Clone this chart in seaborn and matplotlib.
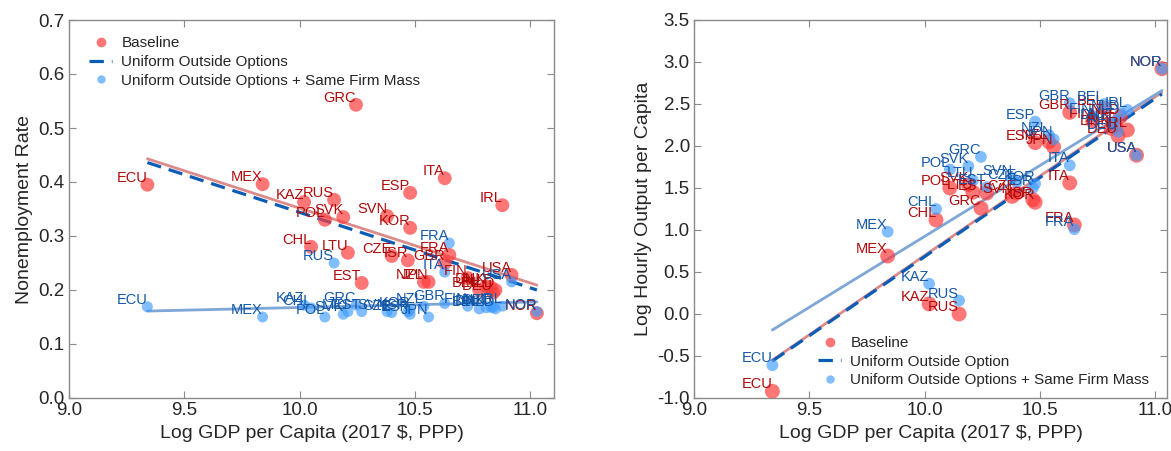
import numpy as np
import pandas as pd
import seaborn as sns
import matplotlib.pyplot as plt
from matplotlib.lines import Line2D

# country codes and log GDP per capita (2017 $, PPP)
countries = ['ECU', 'MEX', 'KAZ', 'CHL', 'RUS', 'POL', 'SVK', 'LTU', 'GRC', 'EST',
             'SVN', 'CZE', 'ISR', 'ESP', 'KOR', 'NZL', 'JPN', 'ITA', 'GBR', 'FRA',
             'FIN', 'BEL', 'DNK', 'AUT', 'DEU', 'NLD', 'IRL', 'USA', 'NOR']
log_gdp = [9.34, 9.84, 10.02, 10.05, 10.15, 10.11, 10.19, 10.21, 10.245, 10.27,
           10.38, 10.40, 10.47, 10.48, 10.48, 10.54, 10.56, 10.63, 10.63, 10.65,
           10.73, 10.78, 10.81, 10.83, 10.84, 10.85, 10.88, 10.92, 11.03]

# left panel: nonemployment rate
nonemp_base = [0.395, 0.396, 0.363, 0.280, 0.367, 0.330, 0.335, 0.269, 0.543, 0.213,
               0.337, 0.263, 0.255, 0.380, 0.315, 0.215, 0.215, 0.407, 0.250, 0.265,
               0.222, 0.200, 0.207, 0.205, 0.195, 0.200, 0.357, 0.228, 0.157]
nonemp_same = [0.169, 0.150, 0.172, 0.167, 0.250, 0.150, 0.155, 0.160, 0.172, 0.160,
               0.160, 0.158, 0.160, 0.155, 0.163, 0.170, 0.150, 0.233, 0.175, 0.287,
               0.170, 0.165, 0.167, 0.168, 0.168, 0.165, 0.170, 0.215, 0.160]

# right panel: log hourly output per capita
output_base = [-0.92, 0.69, 0.12, 1.12, 0.00, 1.50, 1.54, 1.45, 1.26, 1.44,
               1.40, 1.44, 1.36, 2.04, 1.33, 2.05, 1.99, 1.56, 2.40, 1.06,
               2.30, 2.45, 2.21, 2.25, 2.12, 2.35, 2.19, 1.89, 2.92]
output_same = [-0.61, 0.98, 0.36, 1.25, 0.16, 1.72, 1.76, 1.59, 1.87, 1.51,
               1.62, 1.57, 1.50, 2.29, 1.55, 2.13, 2.08, 1.77, 2.51, 1.01,
               2.36, 2.50, 2.28, 2.30, 2.17, 2.39, 2.43, 1.89, 2.92]

# fitted lines, read at the ends of the GDP range
fit_x = [9.34, 11.03]
fit_nonemp_base = [0.443, 0.209]
fit_nonemp_uniform = [0.436, 0.200]
fit_nonemp_same = [0.161, 0.178]
fit_output_base = [-0.55, 2.64]
fit_output_uniform = [-0.56, 2.62]
fit_output_same = [-0.19, 2.66]

df = pd.DataFrame({'country': countries, 'gdp': log_gdp,
                   'u_base': nonemp_base, 'u_same': nonemp_same,
                   'y_base': output_base, 'y_same': output_same})
fits = pd.DataFrame({'gdp': fit_x,
                     'u_base': fit_nonemp_base, 'u_unif': fit_nonemp_uniform,
                     'u_same': fit_nonemp_same,
                     'y_base': fit_output_base, 'y_unif': fit_output_uniform,
                     'y_same': fit_output_same})

sns.set_style('ticks')
plt.rcParams['font.family'] = ['Liberation Sans', 'DejaVu Sans']

RED = '#ff3c3c'
BLUE = '#3d9bff'
RED_TXT = '#b00a0a'
BLUE_TXT = '#1458a8'
RED_LINE = '#dc8a8a'
DASH = '#0b5cb5'
BLUE_LINE = '#7ea6d6'

fig = plt.figure(figsize=(11.71, 4.51), dpi=100)
ax1 = fig.add_axes([69 / 1171, 53 / 451, 485 / 1171, 378 / 451])
ax2 = fig.add_axes([694 / 1171, 53 / 451, 473 / 1171, 378 / 451])


def panel(ax, base, same, fb, fu, fs, s_red, s_blue, xmax):
    sns.lineplot(data=fits, x='gdp', y=fb, color=RED_LINE, lw=2, ax=ax, zorder=2)
    sns.lineplot(data=fits, x='gdp', y=fu, color=DASH, lw=2.3, ax=ax,
                 dashes=(4.5, 2.5), zorder=2)
    sns.lineplot(data=fits, x='gdp', y=fs, color=BLUE_LINE, lw=2, ax=ax, zorder=2)
    sns.scatterplot(data=df, x='gdp', y=base, color=RED, alpha=0.7, s=s_red,
                    edgecolor='none', ax=ax, zorder=3)
    sns.scatterplot(data=df, x='gdp', y=same, color=BLUE, alpha=0.65, s=s_blue,
                    edgecolor='none', ax=ax, zorder=3)
    for _, r in df.iterrows():
        ax.text(r['gdp'], r[base], r['country'], color=RED_TXT, fontsize=10.5,
                ha='right', va='bottom', zorder=4)
        ax.text(r['gdp'], r[same], r['country'], color=BLUE_TXT, fontsize=10.5,
                ha='right', va='bottom', zorder=4)
    ax.set_xlim(9.0, xmax)
    ax.set_xticks([9.0, 9.5, 10.0, 10.5, 11.0])
    ax.set_xticklabels(['9.0', '9.5', '10.0', '10.5', '11.0'])
    ax.set_xlabel('Log GDP per Capita (2017 $, PPP)', fontsize=14, color='#262626')
    ax.tick_params(direction='in', top=True, right=True, length=5, width=0.8,
                   color='#8a8a8a', labelsize=13.5, labelcolor='#262626', pad=3)
    for sp in ax.spines.values():
        sp.set_color('#8a8a8a')
        sp.set_linewidth(1.0)


panel(ax1, 'u_base', 'u_same', 'u_base', 'u_unif', 'u_same', 100, 62, 9.0 + 485 / 230.5)
ax1.set_ylim(0.0, 0.7)
ax1.set_yticks(np.arange(0, 0.71, 0.1))
ax1.set_yticklabels([f'{v:.1f}' for v in np.arange(0, 0.71, 0.1)])
ax1.set_ylabel('Nonemployment Rate', fontsize=14, color='#262626')

panel(ax2, 'y_base', 'y_same', 'y_base', 'y_unif', 'y_same', 115, 72, 9.0 + 473 / 230.5)
ax2.set_ylim(-1.0, 3.5)
ax2.set_yticks(np.arange(-1.0, 3.51, 0.5))
ax2.set_yticklabels([f'{v:.1f}' for v in np.arange(-1.0, 3.51, 0.5)])
ax2.set_ylabel('Log Hourly Output per Capita', fontsize=14, color='#262626')

h_base = Line2D([], [], marker='o', ls='none', color=RED, alpha=0.7, markersize=7, mec='none')
h_same = Line2D([], [], marker='o', ls='none', color=BLUE, alpha=0.65, markersize=6, mec='none')
h_unif = Line2D([], [], color=DASH, lw=2.3, dashes=(4.5, 2.5))

ax1.legend([h_base, h_unif, h_same],
           ['Baseline', 'Uniform Outside Options', 'Uniform Outside Options + Same Firm Mass'],
           loc='upper left', bbox_to_anchor=(0.02, 0.985), frameon=False, fontsize=11,
           handlelength=1.5, handletextpad=0.6, labelspacing=0.3, borderaxespad=0.3)
ax2.legend([h_base, h_unif, h_same],
           ['Baseline', 'Uniform Outside Option', 'Uniform Outside Options + Same Firm Mass'],
           loc='lower left', bbox_to_anchor=(0.24, 0.0), frameon=False, fontsize=11,
           handlelength=1.5, handletextpad=0.6, labelspacing=0.3, borderaxespad=0.3)

fig.savefig('out.png', dpi=100)
